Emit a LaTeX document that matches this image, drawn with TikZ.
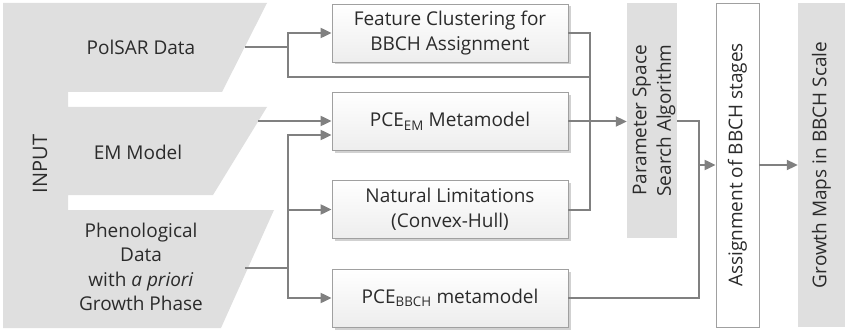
\documentclass[tikz,border=0pt]{standalone}
\usepackage{fontspec}
\setmainfont{Open Sans}
\usepackage{xcolor}
\usetikzlibrary{arrows.meta, positioning, shadows, calc}

\definecolor{inputgray}{HTML}{DFDFDF}
\definecolor{linegray}{HTML}{808080}
\definecolor{framegray}{HTML}{A0A0A0}
\definecolor{txtgray}{HTML}{2B2B2B}

\tikzset{
  flow/.style={draw=linegray, line width=2pt},
  flowarrow/.style={flow, -{Triangle[length=11pt, width=10pt]}},
  procbox/.style={draw=framegray, line width=0.8pt, top color=white,
    bottom color=gray!14, minimum width=236pt, minimum height=58pt,
    align=center, inner sep=0pt,
    drop shadow={shadow xshift=2.5pt, shadow yshift=-2.5pt, opacity=0.3, fill=black!60}},
  sidebar/.style={fill=inputgray, inner sep=0pt},
  vlabel/.style={rotate=90, align=center, inner sep=0pt},
  inlabel/.style={align=center, inner sep=0pt}
}

\begin{document}
\begin{tikzpicture}[x=1pt, y=-1pt, font=\fontsize{19}{24.5}\selectfont, text=txtgray]
  \useasboundingbox (0,0) rectangle (845,331);
  % ---------- Inputs: one gray band with three slanted tabs ----------
  \fill[inputgray] (3,3) -- (267,3) -- (222,92) -- (68,92) -- (68,107)
    -- (267,107) -- (213,195) -- (68,195) -- (68,210) -- (274,210)
    -- (221,328) -- (3,328) -- cycle;
  \node[vlabel, font=\fontsize{20}{24}\selectfont] (input) at (40,164) {INPUT};
  \node[inlabel] (polsar) at (141,47) {PolSAR Data};
  \node[inlabel] (em) at (138,152) {EM Model};
  \node[inlabel] (pheno) at (141,267)
    {Phenological\\Data\\with \textit{a priori}\\Growth Phase};
  % where the connectors leave the tabs
  \coordinate (polsar-out) at (245,47);
  \coordinate (em-out) at (258,121);
  \coordinate (pheno-out) at (245,268);

  % ---------- Processing boxes ----------
  \node[procbox] (fc) at (450,33) {Feature Clustering for\\BBCH Assignment};
  \node[procbox] (pceem) at (450,121.5) {PCE\textsubscript{EM} Metamodel};
  \node[procbox] (natlim) at (450,209.5) {Natural Limitations\\(Convex-Hull)};
  \node[procbox] (pcebbch) at (450,298) {PCE\textsubscript{BBCH} metamodel};

  % ---------- Right-hand columns ----------
  \node[sidebar, minimum width=50pt, minimum height=235pt] (pss) at (652,120.5) {};
  \node[vlabel] at ([xshift=2pt]pss.center) {Parameter Space\\Search Algorithm};
  \node[draw=framegray, fill=white, line width=0.8pt, minimum width=43pt,
    minimum height=324pt, inner sep=0pt] (assign) at (737.5,165) {};
  \node[vlabel] at (assign.center) {Assignment of BBCH stages};
  \node[sidebar, minimum width=47pt, minimum height=324pt] (growth) at (821.5,165) {};
  \node[vlabel] at (growth.center) {Growth Maps in BBCH Scale};

  % ---------- Connectors ----------
  % PolSAR data to clustering and to the collecting bus
  \coordinate (polsar-split) at (288,47);
  \coordinate (bus-low) at (590,77);
  \draw[flow] (polsar-out) -- (polsar-split);
  \draw[flowarrow] (polsar-split) |- (fc.west);
  \draw[flow] (polsar-split) |- (bus-low);
  \draw[flow] (fc.east) -| (bus-low) |- (natlim.east);
  \draw[flowarrow] (pceem.east) -- (pss.west |- pceem.east);
  % EM model
  \draw[flowarrow] (em-out) -- (pceem.west |- em-out);
  % phenological data fans out to three boxes
  \coordinate (pheno-split) at (288,268);
  \coordinate (pheno-top) at (pceem.west |- 0,135);
  \draw[flow] (pheno-out) -- (pheno-split);
  \draw[flowarrow] (pheno-split) |- (pheno-top);
  \draw[flowarrow] (pheno-split |- natlim.west) -- (natlim.west);
  \draw[flowarrow] (pheno-split) |- (pcebbch.west);
  % search result and BBCH metamodel merge into the assignment
  \coordinate (merge) at (699,165);
  \draw[flow] (pcebbch.east) -| (merge) |- (pss.east |- pceem.east);
  \draw[flowarrow] (merge) -- (assign.west |- merge);
  \draw[flowarrow] (assign.east |- merge) -- (growth.west |- merge);
\end{tikzpicture}
\end{document}
